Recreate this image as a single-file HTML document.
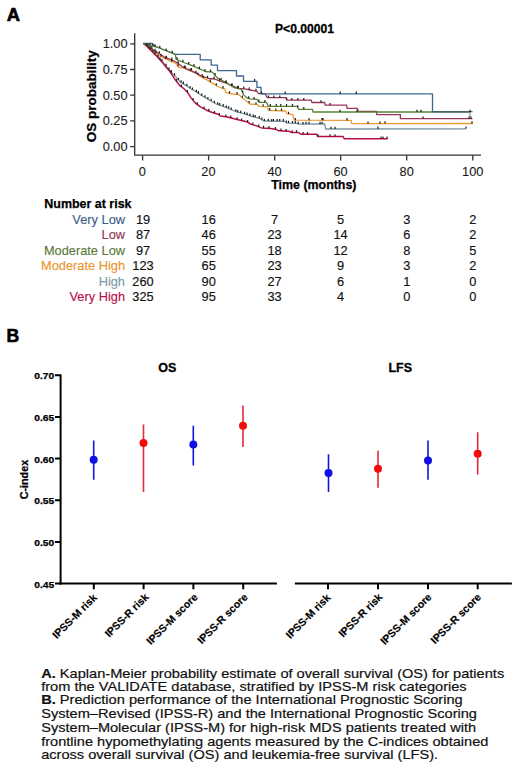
<!DOCTYPE html>
<html>
<head>
<meta charset="utf-8">
<style>
html,body{margin:0;padding:0;background:#fff;}
body{width:520px;height:776px;overflow:hidden;position:relative;}
svg{position:absolute;left:0;top:0;}
text{font-family:"Liberation Sans",sans-serif;}
.b{font-weight:bold;}
</style>
</head>
<body>
<svg width="520" height="776" viewBox="0 0 520 776">
<rect x="0" y="0" width="520" height="776" fill="#fff"/>

<!-- ================= PANEL A ================= -->
<text x="6.8" y="20.8" class="b" font-size="18.4" stroke="#000" stroke-width="0.7" stroke-linejoin="round">A</text>
<text x="275" y="33" class="b" font-size="12.5" textLength="59" lengthAdjust="spacingAndGlyphs" stroke="#000" stroke-width="0.3">P&lt;0.00001</text>

<!-- axes -->
<g stroke="#333" stroke-width="1.3" fill="none">
  <path d="M134.7,33.3 V155.2 H481"/>
  <path d="M130.2,43.8 H134.7 M130.2,69.5 H134.7 M130.2,95.2 H134.7 M130.2,120.9 H134.7 M130.2,146.6 H134.7"/>
  <path d="M142.6,155.2 V160.5 M208.6,155.2 V160.5 M274.7,155.2 V160.5 M340.7,155.2 V160.5 M406.7,155.2 V160.5 M472.8,155.2 V160.5"/>
</g>
<g font-size="12.8" fill="#1a1a1a" text-anchor="end" stroke="#1a1a1a" stroke-width="0.1">
  <text x="127.6" y="48.1">1.00</text>
  <text x="127.6" y="73.8">0.75</text>
  <text x="127.6" y="99.5">0.50</text>
  <text x="127.6" y="125.2">0.25</text>
  <text x="127.6" y="150.9">0.00</text>
</g>
<g font-size="12.8" fill="#1a1a1a" text-anchor="middle" stroke="#1a1a1a" stroke-width="0.1">
  <text x="142.3" y="176.2">0</text>
  <text x="208.4" y="176.2">20</text>
  <text x="274.5" y="176.2">40</text>
  <text x="340.6" y="176.2">60</text>
  <text x="406.7" y="176.2">80</text>
  <text x="472.8" y="176.2">100</text>
</g>
<text x="271.2" y="189.2" class="b" font-size="12.5" textLength="85.3" lengthAdjust="spacingAndGlyphs" stroke="#000" stroke-width="0.25">Time (months)</text>
<text transform="translate(95.5,142.2) rotate(-90)" class="b" font-size="12.5" textLength="92" lengthAdjust="spacingAndGlyphs" stroke="#000" stroke-width="0.25">OS probability</text>

<!-- curves -->
<g fill="none" stroke-width="1.35" stroke-linejoin="round" stroke-linecap="butt">
  <path stroke="#7896a0" stroke-width="1.3" d="M143.4,43.4 L147.2,46.4 L151.8,50.9 L157.6,56.3 L162.3,61.5 L166.5,66.6 L169.5,70.3 L172.1,73.1 L176,76.9 L179.8,81.7 L184.6,84.6 L190.4,88.5 L195.2,91.3 L201.9,95.8 L208.8,99.8 L215.8,103.8 L222.7,106.2 L229.6,109 L236.5,111.9 L243.5,113.7 L250.4,116 L259.2,118.3 L263.8,121 L284.6,121.4 L286.9,123.1 L296.2,123.3 L298.5,124.2 L324.6,124 L325.8,129 L466,128.8"/>
  <path stroke="#b80e46" stroke-width="1.5" d="M143.4,43.4 L147,46.5 L151.5,51 L157.3,56.7 L161.9,61.9 L166,67.1 L170.5,72.3 L174.3,78.4 L177,82 L179.8,85.6 L183.7,88.5 L187.5,92.3 L191.3,98.1 L195.2,102.9 L200,106.7 L206.5,110.2 L212.3,112.5 L218,114.2 L220.4,116 L227.3,117.1 L234.2,118.8 L241.2,120.6 L246.9,121.7 L250.4,124 L255.8,125.6 L261.5,127.9 L270.8,128.5 L276.5,129.6 L278.8,130.8 L289.2,131.3 L291.5,132.5 L298.5,132.5 L300.8,134.2 L316.5,134.2 L317.7,136.5 L343.1,136.5 L344.2,138.8 L387.7,138.8"/>
  <path stroke="#eb9c34" stroke-width="1.3" d="M143.4,43.4 L151.5,49.2 L159.6,55.8 L169.2,60.6 L176,63.5 L178.8,67.3 L186.5,68.3 L191.3,70.2 L196.2,73.1 L200,76.4 L206.5,79.6 L212.3,83.1 L218,86.5 L222.7,88.3 L225,88.8 L225.6,92.3 L229.6,93.5 L238.8,94.6 L241.2,96.9 L245.8,100.4 L250,104 L256.9,104.6 L259.2,106.3 L267.3,106.7 L268.5,110.4 L285.8,111 L286.9,113.8 L292.7,114.4 L294.4,120.2 L351.2,120.4 L351.7,123.7 L473,123.5"/>
  <path stroke="#9a3456" stroke-width="1.3" d="M143.4,43.4 L150.4,48 L154.8,51 L159.6,53.8 L165.4,57.7 L171.2,59.6 L176.9,62.5 L181.7,66.3 L186.5,69.2 L191.3,71.2 L196.2,73.1 L201.9,76.2 L208.8,78.5 L214.6,79 L219.2,80.8 L226.2,83.1 L233,86 L238.8,88.3 L244.6,88.8 L250.4,90 L256.9,91.3 L258.7,93.7 L265,93.7 L267.3,97.7 L285.8,97.7 L286.9,100.2 L311.3,100.2 L311.9,102.5 L324.6,102.5 L325.2,105.2 L346.5,105.2 L347.1,108.3 L357.5,108.3 L358.1,111.4 L376.7,111.4 L376.7,114.6 L400.4,114.6 L400.4,118.7 L472.5,118.7"/>
  <path stroke="#3d6692" stroke-width="1.3" d="M143.4,43.4 L152.3,43.4 L153.5,45.6 L157,47 L164.4,50 L173.1,53.4 L175.5,54.3 L200.2,54.3 L200.2,59.8 L211.2,59.8 L211.2,65.2 L217.5,65.2 L217.5,70.6 L236.5,70.6 L236.5,76 L243.5,76 L243.5,81.3 L256.9,81.3 L256.9,87.3 L261,87.3 L261,93.9 L432.5,93.9 L432.5,111.7 L472.5,111.7"/>
  <path stroke="#568236" stroke-width="1.3" d="M143.4,43.4 L152.7,46 L157,47 L164.4,50 L173.1,53.4 L175.5,54.8 L176,59.1 L183.7,62.5 L190.4,64.9 L196.2,67.3 L200,69.2 L205.4,71.5 L212.3,72.1 L215.8,76.2 L218,78.5 L225,81.9 L229.6,84.8 L234.2,87.7 L241.2,89.4 L243.5,94.6 L247,98 L250,98.8 L256.9,99.4 L259.2,102.3 L266.2,102.3 L268.5,106.3 L297.3,106.3 L298.5,109.3 L312.5,109.3 L313.1,112 L432.5,112"/>
  <path stroke="#4d6a50" stroke-width="1.3" d="M432.5,112 L470,112"/>
  <path stroke="#7f9670" stroke-width="1.1" d="M470,112 V117.5"/>
</g>
<g fill="none" stroke="#1e1e1e" stroke-width="1.2">
  <path d="M146,45.5 v-2.3 M149,48.2 v-2.3 M153,52.0 v-2.3 M158,56.7 v-2.3 M162,61.2 v-2.3 M166,66.0 v-2.3 M169,69.7 v-2.3 M171.3,72.2 v-2.3 M174.6,75.5 v-2.3 M178.5,80.1 v-2.3 M181.1,82.5 v-2.3 M183.4,83.9 v-2.3 M186.9,86.1 v-2.3 M190,88.2 v-2.3 M192.5,89.7 v-2.3 M196.4,92.1 v-2.3 M198.4,93.4 v-2.3 M201.8,95.7 v-2.3 M205,97.6 v-2.3 M207.9,99.3 v-2.3 M211.1,101.1 v-2.3 M214.4,103.0 v-2.3 M217.7,104.5 v-2.3 M219.7,105.2 v-2.3 M223.2,106.4 v-2.3 M226.3,107.7 v-2.3 M228.7,108.6 v-2.3 M231.2,109.7 v-2.3 M235.8,111.6 v-2.3 M237.7,112.2 v-2.3 M240.7,113.0 v-2.3 M244.6,114.1 v-2.3 M247.1,114.9 v-2.3 M250,115.9 v-2.3 M253.4,116.8 v-2.3 M255.2,117.3 v-2.3 M259.3,118.4 v-2.3 M261.8,119.8 v-2.3 M264.3,121.0 v-2.3 M268.3,121.1 v-2.3 M271.7,121.2 v-2.3 M273.5,121.2 v-2.3 M277.2,121.3 v-2.3 M279.7,121.3 v-2.3 M283.4,121.4 v-2.3 M286.4,122.7 v-2.3 M288.5,123.1 v-2.3 M292.5,123.2 v-2.3 M295.3,123.3 v-2.3 M298.3,124.1 v-2.3 M303,124.2 v-2.3 M306,124.1 v-2.3 M309,124.1 v-2.3 M320,124.0 v-2.3 M322,124.0 v-2.3 M331,129.0 v-2.3 M335,129.0 v-2.3 M378,128.9 v-2.3 M466,128.8 v-2.3"/>
  <path d="M150,49.5 v-2.3 M155,54.4 v-2.3 M160,59.8 v-2.3 M171,73.1 v-2.3 M176.5,81.3 v-2.3 M181.4,86.8 v-2.3 M187.4,92.2 v-2.3 M193.1,100.3 v-2.3 M197.4,104.6 v-2.3 M204.1,108.9 v-2.3 M208.8,111.1 v-2.3 M214.5,113.2 v-2.3 M219.4,115.2 v-2.3 M225.8,116.9 v-2.3 M230.7,117.9 v-2.3 M237.1,119.5 v-2.3 M241.6,120.7 v-2.3 M247.6,122.2 v-2.3 M252.8,124.7 v-2.3 M258.7,126.8 v-2.3 M263.5,128.0 v-2.3 M269,128.4 v-2.3 M275.4,129.4 v-2.3 M280.9,130.9 v-2.3 M286.1,131.2 v-2.3 M292.2,132.5 v-2.3 M296.5,132.5 v-2.3 M303.1,134.2 v-2.3 M307.5,134.2 v-2.3 M318,136.5 v-2.3 M330,136.5 v-2.3 M335,136.5 v-2.3 M381,138.8 v-2.3 M383,138.8 v-2.3 M387,138.8 v-2.3"/>
  <path d="M148,46.7 v-2.3 M152,49.6 v-2.3 M156,52.9 v-2.3 M161,56.5 v-2.3 M165.7,58.9 v-2.3 M171.7,61.7 v-2.3 M178.2,66.5 v-2.3 M185.3,68.1 v-2.3 M191.5,70.3 v-2.3 M198,74.7 v-2.3 M203.3,78.0 v-2.3 M210.3,81.9 v-2.3 M216.3,85.5 v-2.3 M223,88.4 v-2.3 M229.5,93.5 v-2.3 M237.1,94.4 v-2.3 M242.4,97.8 v-2.3 M249.2,103.3 v-2.3 M256,104.5 v-2.3 M263.1,106.5 v-2.3 M269.7,110.4 v-2.3 M275.8,110.7 v-2.3 M281.5,110.9 v-2.3 M288.6,114.0 v-2.3 M295.3,120.2 v-2.3 M309,120.3 v-2.3 M322,120.3 v-2.3 M323,120.3 v-2.3 M347,120.4 v-2.3 M368,123.7 v-2.3 M380,123.7 v-2.3 M385,123.6 v-2.3 M472,123.5 v-2.3"/>
  <path d="M147,45.8 v-2.3 M151,48.4 v-2.3 M155,51.1 v-2.3 M159.3,53.6 v-2.3 M166.3,58.0 v-2.3 M171.8,59.9 v-2.3 M178.1,63.4 v-2.3 M184.3,67.9 v-2.3 M190.3,70.8 v-2.3 M196,73.0 v-2.3 M202.1,76.3 v-2.3 M207.5,78.1 v-2.3 M214,78.9 v-2.3 M219.4,80.9 v-2.3 M226,83.0 v-2.3 M232.1,85.6 v-2.3 M238.4,88.1 v-2.3 M243.8,88.7 v-2.3 M249.2,89.8 v-2.3 M256,91.1 v-2.3 M261.5,93.7 v-2.3 M268.4,97.7 v-2.3 M273.8,97.7 v-2.3 M279.8,97.7 v-2.3 M286.7,99.7 v-2.3 M291.8,100.2 v-2.3 M297.8,100.2 v-2.3 M303.8,100.2 v-2.3 M321,102.5 v-2.3 M330,105.2 v-2.3 M423,118.7 v-2.3 M469,118.7 v-2.3 M471,118.7 v-2.3"/>
  <path d="M254.6,81.3 v-2.3 M285.2,93.9 v-2.3 M340.2,93.9 v-2.3 M356.3,93.9 v-2.3"/>
  <path d="M150,45.2 v-2.3 M153,46.1 v-2.3 M155,46.5 v-2.3 M159.8,48.1 v-2.3 M166.1,50.7 v-2.3 M172.2,53.0 v-2.3 M177.1,59.6 v-2.3 M182.9,62.1 v-2.3 M188.7,64.3 v-2.3 M194,66.4 v-2.3 M199.4,68.9 v-2.3 M205,71.3 v-2.3 M210.5,71.9 v-2.3 M215.1,75.4 v-2.3 M221,80.0 v-2.3 M226.2,82.7 v-2.3 M231.6,86.1 v-2.3 M237.6,88.5 v-2.3 M242.7,92.8 v-2.3 M248.7,98.5 v-2.3 M254.1,99.2 v-2.3 M258.9,101.9 v-2.3 M264.9,102.3 v-2.3 M270.3,106.3 v-2.3 M276.3,106.3 v-2.3 M280.8,106.3 v-2.3 M286.5,106.3 v-2.3 M292.5,106.3 v-2.3 M297.8,107.6 v-2.3 M303.8,109.3 v-2.3 M340,112.0 v-2.3 M357,112.0 v-2.3 M417,112.0 v-2.3 M421,112.0 v-2.3 M470,112.0 v-2.3"/>
</g>


<!-- risk table -->
<text x="44.3" y="208" class="b" font-size="12.5" textLength="87.2" lengthAdjust="spacingAndGlyphs" stroke="#000" stroke-width="0.25">Number at risk</text>
<g font-size="12.8" text-anchor="end" stroke-width="0.15">
  <text x="125" y="223.5" fill="#3d5f8c" stroke="#3d5f8c">Very Low</text>
  <text x="125" y="239" fill="#8e3a55" stroke="#8e3a55">Low</text>
  <text x="125" y="254.5" fill="#5a7a3a" stroke="#5a7a3a">Moderate Low</text>
  <text x="125" y="270" fill="#e8962e" stroke="#e8962e">Moderate High</text>
  <text x="125" y="285.5" fill="#7e9aa6" stroke="#7e9aa6">High</text>
  <text x="125" y="301" fill="#b8124a" stroke="#b8124a">Very High</text>
</g>
<g font-size="12.8" text-anchor="middle" fill="#111" stroke="#111" stroke-width="0.15">
  <text x="143" y="223.5">19</text><text x="208.7" y="223.5">16</text><text x="274.5" y="223.5">7</text><text x="340.6" y="223.5">5</text><text x="406.7" y="223.5">3</text><text x="472.8" y="223.5">2</text>
  <text x="143" y="239">87</text><text x="208.7" y="239">46</text><text x="274.5" y="239">23</text><text x="340.6" y="239">14</text><text x="406.7" y="239">6</text><text x="472.8" y="239">2</text>
  <text x="143" y="254.5">97</text><text x="208.7" y="254.5">55</text><text x="274.5" y="254.5">18</text><text x="340.6" y="254.5">12</text><text x="406.7" y="254.5">8</text><text x="472.8" y="254.5">5</text>
  <text x="143" y="270">123</text><text x="208.7" y="270">65</text><text x="274.5" y="270">23</text><text x="340.6" y="270">9</text><text x="406.7" y="270">3</text><text x="472.8" y="270">2</text>
  <text x="143" y="285.5">260</text><text x="208.7" y="285.5">90</text><text x="274.5" y="285.5">27</text><text x="340.6" y="285.5">6</text><text x="406.7" y="285.5">1</text><text x="472.8" y="285.5">0</text>
  <text x="143" y="301">325</text><text x="208.7" y="301">95</text><text x="274.5" y="301">33</text><text x="340.6" y="301">4</text><text x="406.7" y="301">0</text><text x="472.8" y="301">0</text>
</g>

<!-- ================= PANEL B ================= -->
<text x="6.4" y="341.6" class="b" font-size="17.6" stroke="#000" stroke-width="0.6" stroke-linejoin="round">B</text>
<text x="167.3" y="372.3" class="b" font-size="12.5" text-anchor="middle" stroke="#000" stroke-width="0.3">OS</text>
<text x="400.3" y="372.3" class="b" font-size="12.5" text-anchor="middle" stroke="#000" stroke-width="0.3">LFS</text>

<g stroke="#000" stroke-width="2" fill="none">
  <path d="M60.6,374.5 V584.6"/>
  <path d="M55,375.3 H60.6 M55,417 H60.6 M55,458.6 H60.6 M55,500.3 H60.6 M55,542 H60.6 M55,583.6 H60.6"/>
  <path d="M59.6,583.6 H276.9 M294.9,583.6 H511.9"/>
  <path d="M93.8,583.6 V589.2 M143.6,583.6 V589.2 M193.4,583.6 V589.2 M243.2,583.6 V589.2 M328,583.6 V589.2 M378,583.6 V589.2 M428,583.6 V589.2 M477.7,583.6 V589.2"/>
</g>
<g class="b" font-size="9" text-anchor="end" fill="#000" stroke="#000" stroke-width="0.25">
  <text x="54.2" y="379.3" textLength="20" lengthAdjust="spacingAndGlyphs">0.70</text>
  <text x="54.2" y="421.0" textLength="20" lengthAdjust="spacingAndGlyphs">0.65</text>
  <text x="54.2" y="462.6" textLength="20" lengthAdjust="spacingAndGlyphs">0.60</text>
  <text x="54.2" y="504.3" textLength="20" lengthAdjust="spacingAndGlyphs">0.55</text>
  <text x="54.2" y="546.0" textLength="20" lengthAdjust="spacingAndGlyphs">0.50</text>
  <text x="54.2" y="587.6" textLength="20" lengthAdjust="spacingAndGlyphs">0.45</text>
</g>
<text transform="translate(28.3,479.6) rotate(-90)" class="b" font-size="10.3" text-anchor="middle" textLength="39.5" lengthAdjust="spacingAndGlyphs" stroke="#000" stroke-width="0.25">C-index</text>

<!-- error bars -->
<g stroke-width="1.6">
  <path stroke="#1414dc" d="M93.7,440.4 V479.8 M193.3,425.8 V465.6 M328.5,454.2 V492 M428,440.4 V479.8"/>
  <path stroke="#e42a35" d="M143.5,424.6 V492 M243,405.6 V447 M378,450.8 V487.7 M477.7,432.3 V474.6"/>
</g>
<g fill="#1010e6">
  <circle cx="93.7" cy="459.8" r="4"/><circle cx="193.3" cy="444.6" r="4"/><circle cx="328.5" cy="473" r="4"/><circle cx="428" cy="460.6" r="4"/>
</g>
<g fill="#f20c0c">
  <circle cx="143.5" cy="443" r="4"/><circle cx="243" cy="425.8" r="4"/><circle cx="378" cy="468.8" r="4"/><circle cx="477.7" cy="453.8" r="4"/>
</g>

<!-- x labels rotated -->
<g class="b" font-size="10.5" text-anchor="end" fill="#000" stroke="#000" stroke-width="0.2">
  <text transform="translate(97.6,598.3) rotate(-45)">IPSS-M risk</text>
  <text transform="translate(149.3,597.8) rotate(-45)">IPSS-R risk</text>
  <text transform="translate(198.3,597.8) rotate(-45)">IPSS-M score</text>
  <text transform="translate(248.3,597.8) rotate(-45)">IPSS-R score</text>
  <text transform="translate(331.1,598.3) rotate(-45)">IPSS-M risk</text>
  <text transform="translate(383,597.8) rotate(-45)">IPSS-R risk</text>
  <text transform="translate(432.2,597.8) rotate(-45)">IPSS-M score</text>
  <text transform="translate(481.7,597.8) rotate(-45)">IPSS-R score</text>
</g>

<!-- ================= CAPTION ================= -->
<g font-size="13.3" fill="#111" stroke="#111" stroke-width="0.2">
  <text x="41.2" y="677.8" textLength="463" lengthAdjust="spacingAndGlyphs"><tspan class="b">A.</tspan> Kaplan-Meier probability estimate of overall survival (OS) for patients</text>
  <text x="41.2" y="691.4" textLength="425.5" lengthAdjust="spacingAndGlyphs">from the VALIDATE database, stratified by IPSS-M risk categories</text>
  <text x="41.2" y="704.3" textLength="421.5" lengthAdjust="spacingAndGlyphs"><tspan class="b">B.</tspan> Prediction performance of the International Prognostic Scoring</text>
  <text x="41.2" y="717.9" textLength="435.8" lengthAdjust="spacingAndGlyphs">System–Revised (IPSS-R) and the International Prognostic Scoring</text>
  <text x="41.2" y="731.9" textLength="434.9" lengthAdjust="spacingAndGlyphs">System–Molecular (IPSS-M) for high-risk MDS patients treated with</text>
  <text x="41.2" y="745.8" textLength="447.2" lengthAdjust="spacingAndGlyphs">frontline hypomethylating agents measured by the C-indices obtained</text>
  <text x="41.2" y="759.2" textLength="396.9" lengthAdjust="spacingAndGlyphs">across overall survival (OS) and leukemia-free survival (LFS).</text>
</g>
</svg>
</body>
</html>
